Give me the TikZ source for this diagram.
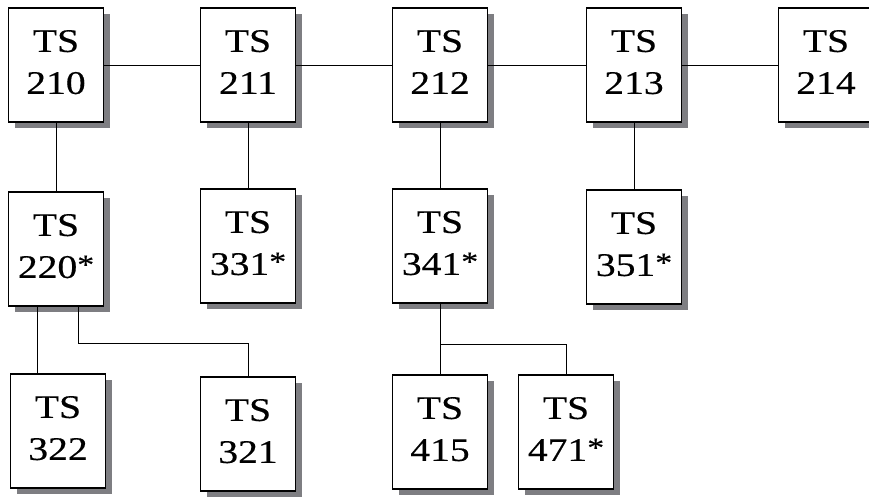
\documentclass[tikz,border=0pt]{standalone}
\usepackage{fontspec}
\newfontfamily\tsfont[FakeStretch=1.2, FakeBold=0.4]{Liberation Serif}
\usetikzlibrary{shadows}
\definecolor{shadowgray}{RGB}{126,126,130}
\newcommand{\tsstar}{\raisebox{.12em}{\scalebox{.85}{*}}}
\tikzset{
	tsbox/.style = {draw, line width = 1.5pt, fill = white, align = center,
		minimum width = 95pt, minimum height = 114pt, inner sep = 0pt,
		text depth = 6pt, font = \tsfont\fontsize{33}{42}\selectfont,
		drop shadow = {shadow xshift = 6pt, shadow yshift = -6pt, fill = shadowgray, opacity = 1}},
	link/.style = {line width = .8pt}
}
\begin{document}
\begin{tikzpicture}[x = 1pt, y = -1pt]
		\path [use as bounding box, clip] (0,0) rectangle (869,497);
		
		\node (T210) at (56,65) [tsbox] {TS\\210};
		\node (T211) at (248,65) [tsbox] {TS\\211};
		\node (T212) at (440,65) [tsbox] {TS\\212};
		\node (T213) at (634,65) [tsbox] {TS\\213};
		\node (T214) at (826,65) [tsbox] {TS\\214};
		
		\node (T220) at (56,249) [tsbox] {TS\\220\tsstar};
		\node (T331) at (248,246) [tsbox] {TS\\331\tsstar};
		\node (T341) at (440,246) [tsbox] {TS\\341\tsstar};
		\node (T351) at (634,247) [tsbox] {TS\\351\tsstar};
		
		\node (T322) at (58,431) [tsbox] {TS\\322};
		\node (T321) at (248,434) [tsbox] {TS\\321};
		\node (T415) at (440,432) [tsbox] {TS\\415};
		\node (T471) at (566,432) [tsbox] {TS\\471\tsstar};
		
		\draw [link] (T210) -- (T211) -- (T212) -- (T213) -- (T214);
		\draw [link] (T210) -- (T220);
		\draw [link] (T211) -- (T331);
		\draw [link] (T212) -- (T341);
		\draw [link] (T213) -- (T351);
		
		\draw [link] ([xshift = -19pt]T220.south) -- ([xshift = -19pt]T220.south |- T322.north);
		\draw [link] ([xshift = 22pt]T220.south) -- ++(0,37) -| (T321.north);
		\draw [link] (T341) -- (T415);
		\draw [link] ([yshift = -41pt]T341.south) -| (T471.north);
		\end{tikzpicture}
\end{document}
